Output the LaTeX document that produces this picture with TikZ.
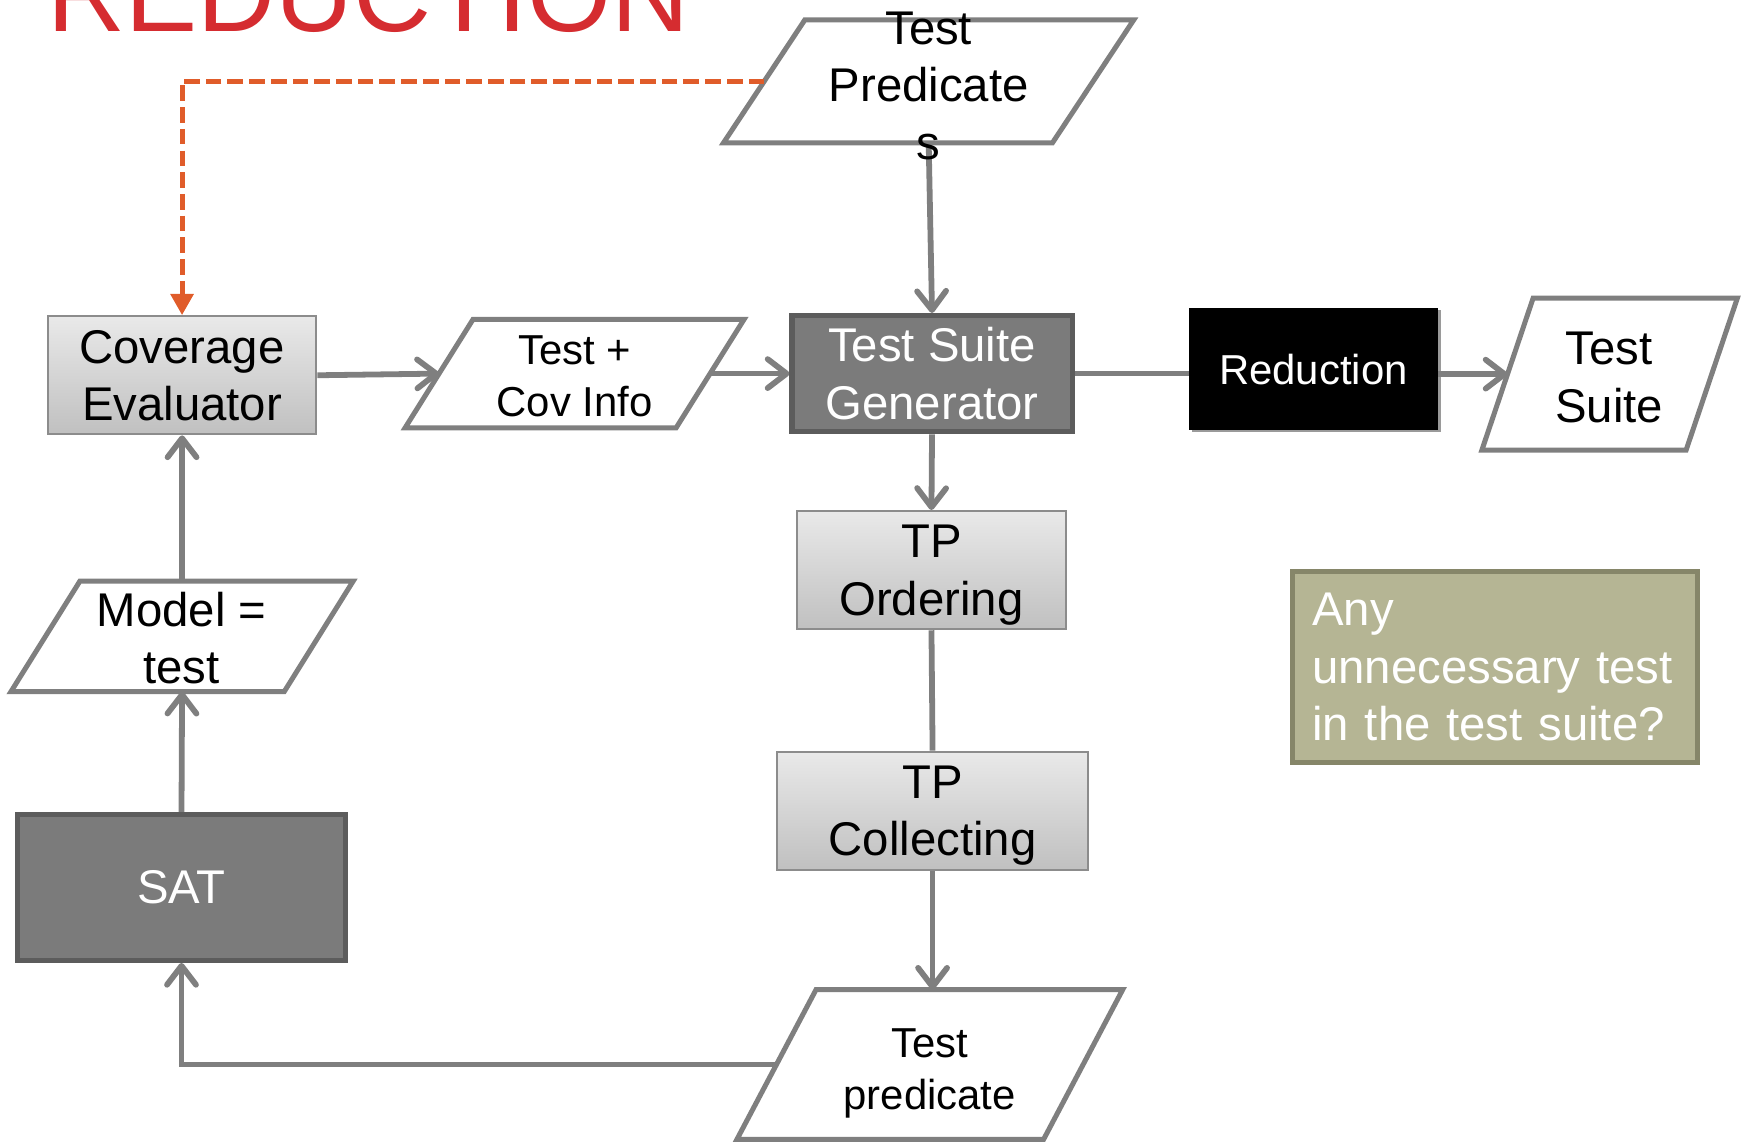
\documentclass[tikz,border=0pt]{standalone}
\usepackage{fontspec}
\setmainfont{Liberation Sans}
\usetikzlibrary{arrows.meta,calc}
\definecolor{titlered}{HTML}{D52C30}
\definecolor{dashorange}{HTML}{E05C2A}
\definecolor{linegray}{HTML}{7F7F7F}
\definecolor{boxedge}{HTML}{8C8C8C}
\definecolor{gradtop}{HTML}{E9E9E9}
\definecolor{gradbot}{HTML}{C0C0C0}
\definecolor{darkfill}{HTML}{7B7B7B}
\definecolor{darkedge}{HTML}{5C5C5C}
\definecolor{olivefill}{HTML}{B5B594}
\definecolor{oliveedge}{HTML}{868669}
\definecolor{shadowgray}{HTML}{9A9A9A}
\pgfdeclarelayer{background}
\pgfsetlayers{background,main}
\tikzset{
  bigtxt/.style={font=\fontsize{42.5pt}{51.5pt}\selectfont},
  smalltxt/.style={font=\fontsize{37.6pt}{46pt}\selectfont},
  lightbox/.style={draw=boxedge, line width=2pt, top color=gradtop, bottom color=gradbot, align=center, inner sep=0pt, text depth=0pt, bigtxt},
  darkbox/.style={draw=darkedge, fill=darkfill, line width=4.5pt, text=white, align=center, inner sep=0pt, bigtxt},
  framebox/.style={inner sep=0pt},
  pgramline/.style={draw=linegray, line width=4.5pt, fill=white, line join=miter},
  txt/.style={align=center, inner sep=0pt},
  conn/.style={draw=linegray, line width=5.2pt},
  arr/.style={conn, -{Straight Barb[length=17pt,width=26pt,round]}},
  dasharr/.style={draw=dashorange, line width=4.5pt, dash pattern=on 14pt off 5.5pt, -{Triangle[length=19pt,width=20pt]}},
}
\newcommand\pgram[2]{\draw[pgramline] ($(#1.north west)+(#2,0)$) -- (#1.north east) -- ($(#1.south east)-(#2,0)$) -- (#1.south west) -- cycle;}
\begin{document}
\begin{tikzpicture}[x=1pt,y=-1pt]
\useasboundingbox (0,0) rectangle (1568,1026);
\clip (0,0) rectangle (1568,1026);

\node[anchor=base west, inner sep=0pt, text=titlered, font=\fontsize{97pt}{97pt}\selectfont] (title) at (42.3,28) {REDUCTION};

% boxes
\node[lightbox, minimum width=241pt, minimum height=106pt] (cov) at (163.5,337) {Coverage\\Evaluator};
\node[darkbox, minimum width=251.5pt, minimum height=104.5pt] (tsg) at (837,335.5) {Test Suite\\Generator};
\node[fill=black, text=white, inner sep=0pt, minimum width=223pt, minimum height=109pt, smalltxt] (red) at (1179.5,331.5) {Reduction};
\node[lightbox, minimum width=241pt, minimum height=106pt] (tpo) at (836.5,512) {TP\\Ordering};
\node[lightbox, minimum width=279pt, minimum height=106pt] (tpc) at (837.5,728) {TP\\Collecting};
\node[darkbox, minimum width=295pt, minimum height=131pt] (sat) at (163,797) {SAT};
\node[draw=oliveedge, fill=olivefill, line width=4.5pt, minimum width=364pt, minimum height=171pt, text width=328pt, align=left, inner sep=0pt, text=white, bigtxt] (note) at (1342.5,599) {Any\\unnecessary test\\in the test suite?};

% parallelogram frames
\node[framebox, minimum width=368pt, minimum height=110pt] (tp) at (834,73) {};
\node[framebox, minimum width=304pt, minimum height=97pt] (tci) at (516,335.5) {};
\node[framebox, minimum width=229pt, minimum height=136pt] (ts) at (1445.5,336) {};
\node[framebox, minimum width=307pt, minimum height=99pt] (model) at (163.5,571.5) {};
\node[framebox, minimum width=346pt, minimum height=134pt] (tpb) at (835,956) {};

% parallelogram texts
\node[txt, bigtxt] (tptxt) at (834,77) {Test\\Predicate\\s};
\node[txt, smalltxt] (tcitxt) at (516,338) {Test +\\Cov Info};
\node[txt, bigtxt] (tstxt) at (1445,339) {Test\\Suite};
\node[txt, bigtxt] (modeltxt) at (163,573) {Model =\\test};
\node[txt, smalltxt] (tpbtxt) at (835,964) {Test\\predicate};

% edge points on slanted sides
\coordinate (tpleft) at ($(tp.west)+(36.5,0)$);
\coordinate (tcileft) at ($(tci.west)+(30.5,0)$);
\coordinate (tciright) at ($(tci.east)-(30.5,0)$);
\coordinate (tsleft) at ($(ts.west)+(23,0)$);
\coordinate (tpbleft) at ($(tpb.west)+(35.5,0)$);

\begin{pgfonlayer}{background}
\pgram{tp}{73}
\pgram{tci}{61}
\pgram{ts}{46}
\pgram{model}{62}
\pgram{tpb}{71}
\fill[shadowgray] ($(red.north west)+(3,1.5)$) rectangle ($(red.south east)+(3,1.5)$);

\draw[dasharr] (tpleft) -| (cov.north);
\draw[arr] (cov.east) -- (tcileft);
\draw[arr] (tciright) -- (tsg.west);
\draw[arr] (tp.south) -- (tsg.north);
\draw[conn] (tsg.east) -- (tsg.east -| red.west);
\draw[arr] (red.east |- tsleft) -- (tsleft);
\draw[arr] (tsg.south) -- (tpo.north);
\draw[conn] (tpo.south) -- (tpc.north);
\draw[arr] (tpc.south) -- (tpc.south |- tpb.north);
\draw[arr] (tpbleft) -| (sat.south);
\draw[arr] (sat.north) -- (model.south);
\draw[arr] (model.north) -- (cov.south);
\end{pgfonlayer}
\end{tikzpicture}
\end{document}
